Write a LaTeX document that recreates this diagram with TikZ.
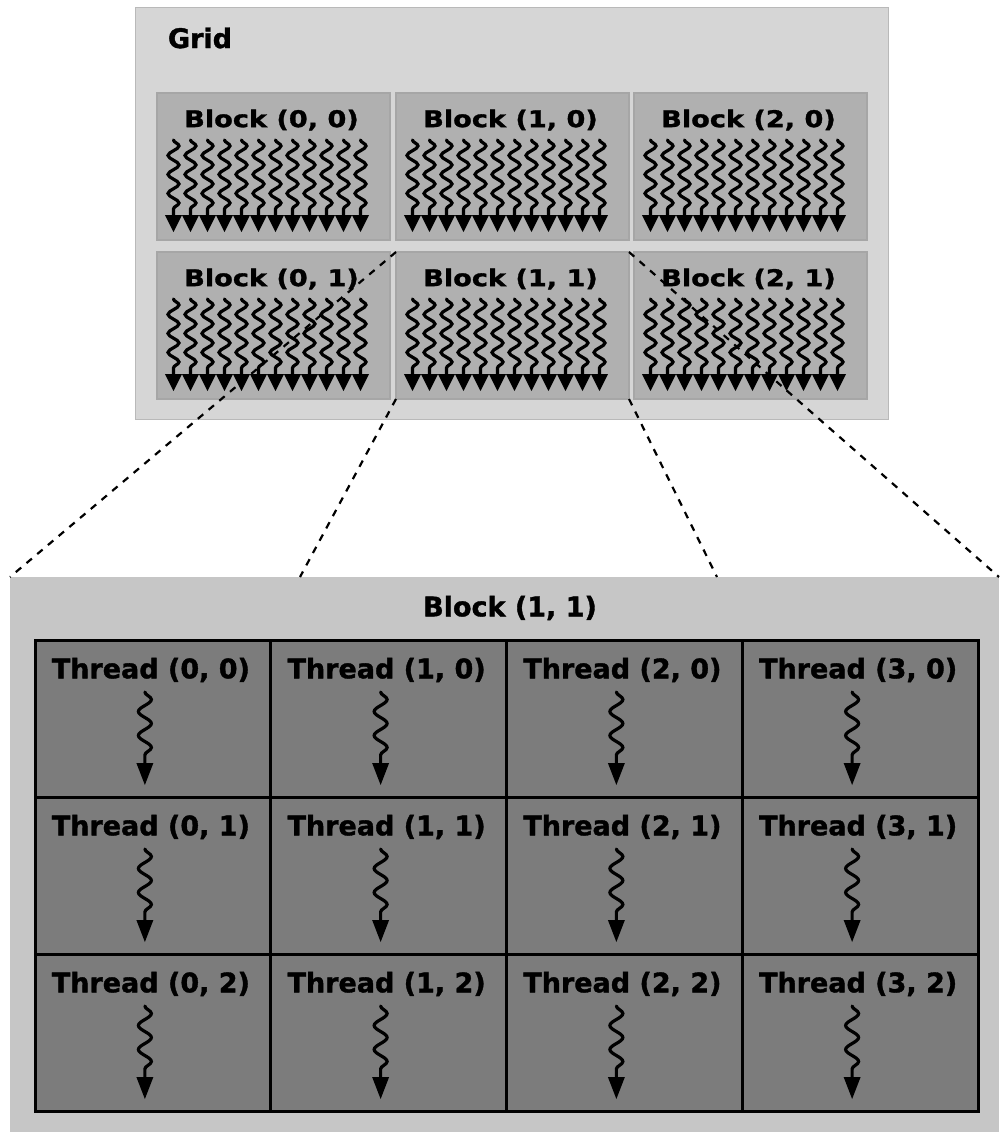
\documentclass[tikz,border=0pt]{standalone}
\usepackage{fontspec}
\setmainfont{DejaVu Sans}[FakeBold=1.3]
\newfontfamily\wideface{DejaVu Sans}[FakeStretch=1.18, FakeBold=1.3]
\usetikzlibrary{calc,decorations.pathmorphing}

\definecolor{gridbg}{HTML}{D6D6D6}
\definecolor{blockbg}{HTML}{B0B0B0}
\definecolor{zoombg}{HTML}{C6C6C6}
\definecolor{cellbg}{HTML}{7C7C7C}

\tikzset{
  gridbox/.style={rectangle, anchor=north west, inner sep=0pt, outer sep=0pt,
    fill=gridbg, draw=gray!55, line width=1pt},
  blockbox/.style={rectangle, anchor=north west, inner sep=0pt, outer sep=0pt,
    fill=blockbg, draw=gray!70, line width=1.2pt,
    minimum width=233pt, minimum height=147pt},
  zoombox/.style={rectangle, anchor=north west, inner sep=0pt, outer sep=0pt,
    fill=zoombg, minimum width=989pt, minimum height=555pt},
  cellbox/.style={rectangle, anchor=north west, inner sep=0pt, outer sep=0pt,
    fill=cellbg, draw=black, line width=3pt,
    minimum width=235.75pt, minimum height=157pt},
  gridlbl/.style={inner sep=0pt, font=\fontsize{27}{32}\selectfont\bfseries},
  blocklbl/.style={inner sep=0pt, font=\wideface\fontsize{23}{28}\selectfont\bfseries},
  titlelbl/.style={inner sep=0pt, font=\fontsize{27}{32}\selectfont\bfseries},
  threadlbl/.style={inner sep=0pt, font=\fontsize{27}{32}\selectfont\bfseries},
  zoomline/.style={draw=black, line width=2.2pt, dash pattern=on 7pt off 7pt},
  % small thread of a block: wavy stroke with a filled head
  bthread/.pic={
    \draw[line width=3.2pt, line cap=round, decorate,
      decoration={snake, amplitude=5.5pt, segment length=19pt}] (0,0) -- (0,76);
    \fill (-8.6,75) -- (8.6,75) -- (0,92) -- cycle;
  },
  % single thread of the enlarged block
  cthread/.pic={
    \draw[line width=3.2pt, line cap=round, decorate,
      decoration={snake, amplitude=6.5pt, segment length=24pt}] (0,0) -- (0,72);
    \fill (-8.5,71) -- (8.5,71) -- (0,93) -- cycle;
  },
}

\begin{document}
\begin{tikzpicture}[x=1pt, y=-1pt]
\useasboundingbox (0,0) rectangle (999,1132);

% the grid of blocks
\node[gridbox, minimum width=753pt, minimum height=411pt] (grid) at (135,8) {};
\node[gridlbl] (gridname) at (200,38) {Grid};

\foreach \c/\xl in {0/157,1/396,2/634}{
  \foreach \r/\yt in {0/93,1/252}{
    \node[blockbox] (b\c\r) at (\xl,\yt) {};
    \node[blocklbl] (bl\c\r) at ($(b\c\r.north)+(-2,27)$) {Block (\c, \r)};
    \foreach \i in {0,...,11}{
      \pic at ($(b\c\r.north)+({-100+17*\i},47)$) {bthread};
    }
  }
}

% enlarged block (1, 1)
\node[zoombox] (zoom) at (10,577) {};
\node[titlelbl] (zoomname) at (510,608) {Block (1, 1)};

\foreach \c in {0,1,2,3}{
  \foreach \r in {0,1,2}{
    \pgfmathsetmacro{\xl}{35+235.75*\c}
    \pgfmathsetmacro{\yt}{640+157*\r}
    \node[cellbox] (t\c\r) at (\xl,\yt) {};
  }
}
\foreach \c in {0,1,2,3}{
  \foreach \r in {0,1,2}{
    \node[threadlbl] (tl\c\r) at ($(t\c\r.north)+(-2,30)$) {Thread (\c, \r)};
    \pic at ($(t\c\r.north)+(-8,52)$) {cthread};
  }
}

% guide lines from block (1, 1) to its enlargement
\coordinate (zoomleft) at (300,577);
\coordinate (zoomright) at (717,577);
\draw[zoomline] (b11.north west) -- (zoom.north west);
\draw[zoomline] (b11.south west) -- (zoomleft);
\draw[zoomline] (b11.south east) -- (zoomright);
\draw[zoomline] (b11.north east) -- (zoom.north east);
\end{tikzpicture}
\end{document}
